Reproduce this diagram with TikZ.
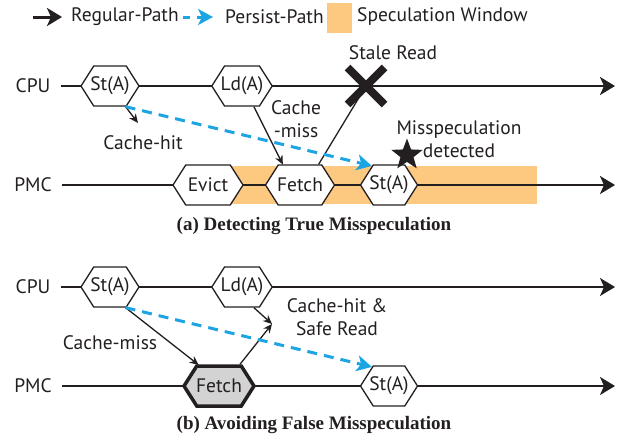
\documentclass[tikz,border=0pt]{standalone}
\usepackage{fontspec}
\setmainfont{PT Sans}
\newfontfamily\capfont{Liberation Serif}
\usetikzlibrary{arrows.meta,shapes.symbols,shapes.geometric,shapes.misc}
\definecolor{Ink}{HTML}{231F20}
\definecolor{Persist}{HTML}{1CA4E3}
\definecolor{Window}{HTML}{FDC880}
\definecolor{FetchGray}{HTML}{D3D3D3}
\tikzset{
  timeline/.style={Ink,line width=2.5pt,-{Stealth[length=15pt,width=18pt,inset=4pt]}},
  hexbox/.style={signal,signal to=west and east,signal pointer angle=115,draw=Ink,fill=white,line width=1.3pt,minimum width=58pt,minimum height=40pt,inner xsep=-4pt,inner ysep=1pt,text=Ink},
  regular/.style={Ink,line width=1.3pt,-{Stealth[length=9pt,width=8pt]}},
  persist/.style={Persist,line width=3pt,dash pattern=on 10pt off 7pt,-{Stealth[length=15pt,width=16pt,inset=4pt]}},
  lbl/.style={text=Ink,inner sep=0pt,align=center},
  caption/.style={text=Ink,inner sep=0pt,font=\fontsize{19}{22}\selectfont\capfont\bfseries}
}
\begin{document}
\begin{tikzpicture}[x=1pt,y=-1pt,font=\fontsize{19.5}{23}\selectfont]
\useasboundingbox (0,0) rectangle (621,442);
\coordinate (regA) at (33,17); \coordinate (regB) at (62,17);
\draw[timeline,line width=3pt] (regA) -- (regB);
\node[lbl,anchor=west] (regT) at (71,17) {Regular-Path};
\coordinate (perA) at (183,17); \coordinate (perB) at (213,17);
\draw[persist,dash pattern=on 7pt off 7pt] (perA) -- (perB);
\node[lbl,anchor=west] (perT) at (225,17) {Persist-Path};
\node[fill=Window,minimum width=25pt,minimum height=30pt,inner sep=0pt] (winL) at (339,18) {};
\node[lbl,anchor=west] (winT) at (357,17) {Speculation Window};

\fill[Window] (227,166) rectangle (537,204);
\node[lbl] (cpuA) at (33,86) {CPU};
\node[lbl] (pmcA) at (33,185) {PMC};
\coordinate (cpuAend) at (615,86);
\coordinate (pmcAend) at (615,185);
\draw[timeline] ([xshift=10pt]cpuA.east) -- (cpuAend);
\draw[timeline] ([xshift=10pt]pmcA.east) -- (pmcAend);
\node[hexbox] (stA) at (110,86) {St(A)};
\node[hexbox] (ldA) at (242,86) {Ld(A)};
\node[hexbox,minimum width=70pt] (evict) at (208,185) {Evict};
\node[hexbox,minimum width=69pt] (fetchA) at (300,185) {Fetch};
\node[hexbox,minimum width=57pt] (stPA) at (389,185) {St(A)};
\coordinate (hitA) at (138,123);
\draw[regular] (stA.-53) -- (hitA);
\draw[regular] (ldA.-60) -- (fetchA.130);
\node[cross out,draw=Ink,line width=8pt,minimum size=29pt,inner sep=0pt] (stale) at (366,86) {};
\draw[Ink,line width=1.3pt] (fetchA.48) -- (stale.center);
\draw[persist] (stA.-53) -- (stPA.132);
\node[star,star points=5,star point ratio=2.4,fill=Ink,minimum size=33pt,inner sep=0pt] (detect) at (407,155) {};
\node[lbl] (hitAT) at (143,143) {Cache-hit};
\node[lbl] (missAT) at (296,119) {Cache\\-miss};
\node[lbl] (staleT) at (393,53) {Stale Read};
\node[lbl] (detectT) at (459,139) {Misspeculation\\detected};
\node[caption] (capA) at (314,226) {(a) Detecting True Misspeculation};

\node[lbl] (cpuB) at (33,287) {CPU};
\node[lbl] (pmcB) at (33,386) {PMC};
\coordinate (cpuBend) at (615,287);
\coordinate (pmcBend) at (615,386);
\draw[timeline,line width=1.8pt] ([xshift=10pt]cpuB.east) -- (cpuBend);
\draw[timeline,line width=1.8pt] ([xshift=10pt]pmcB.east) -- (pmcBend);
\node[hexbox] (stB) at (110,287) {St(A)};
\node[hexbox] (ldB) at (242,287) {Ld(A)};
\node[hexbox,minimum width=70pt,fill=FetchGray,line width=3.5pt] (fetchB) at (219,386) {Fetch};
\node[hexbox,minimum width=57pt] (stPB) at (389,386) {St(A)};
\coordinate (meetB) at (272,324);
\draw[regular] (stB.-53) -- (fetchB.134);
\draw[regular] (ldB.-60) -- (meetB);
\draw[regular] (fetchB.46) -- (meetB);
\draw[persist] (stB.-53) -- (stPB.132);
\node[lbl] (missBT) at (110,343) {Cache-miss};
\node[lbl] (hitBT) at (337,317) {Cache-hit \&\\Safe Read};
\node[caption] (capB) at (314,425) {(b) Avoiding False Misspeculation};
\end{tikzpicture}
\end{document}
